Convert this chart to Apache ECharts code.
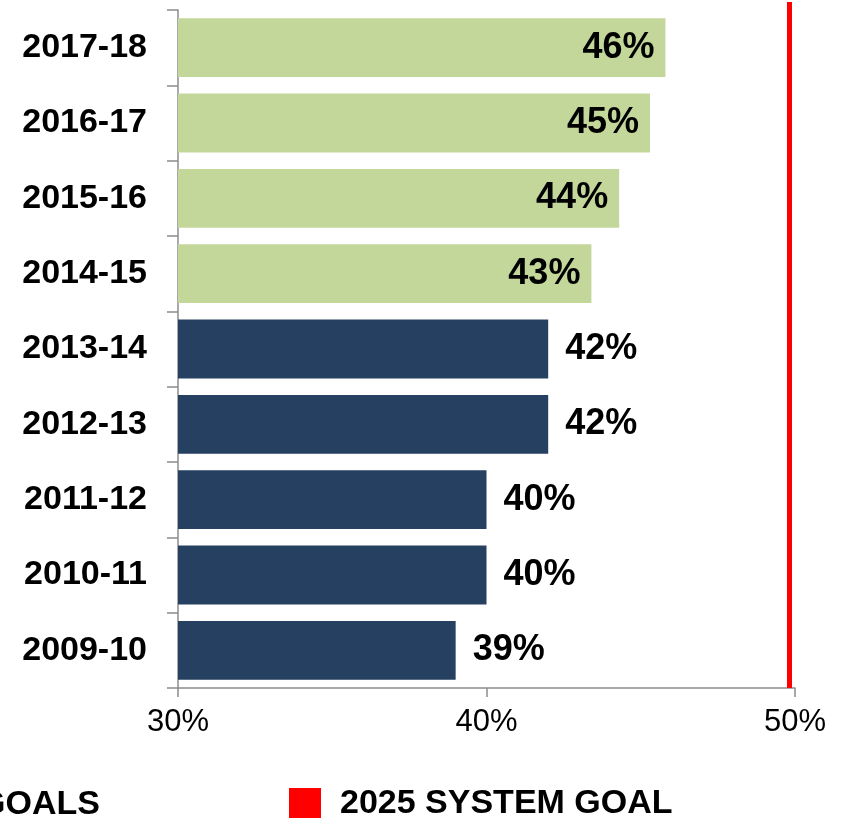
<!DOCTYPE html>
<html>
<head>
<meta charset="utf-8">
<script src="https://cdn.jsdelivr.net/npm/echarts@6/dist/echarts.min.js"></script>
<style>html,body{margin:0;padding:0;background:#fff;}#c{width:844px;height:818px;}</style>
</head>
<body>
<div id="c"></div>
<script>
const years = ['2009-10','2010-11','2011-12','2012-13','2013-14','2014-15','2015-16','2016-17','2017-18'];
const values = [39.0, 40.0, 40.0, 42.0, 42.0, 43.4, 44.3, 45.3, 45.8];
const labels = ['39%','40%','40%','42%','42%','43%','44%','45%','46%'];
const isGoalYear = [false,false,false,false,false,true,true,true,true];
const goalValue = 49.8;
const xTicks = [30, 40, 50];

const FONT = "'Liberation Sans', Arial, sans-serif";
const chart = echarts.init(document.getElementById('c'));

const barData = values.map((v, i) => ({
  value: v,
  itemStyle: { color: isGoalYear[i] ? '#C4D79B' : '#254061' },
  label: isGoalYear[i]
    ? { position: 'insideRight', distance: 11 }
    : { position: 'right', distance: 17 }
}));

chart.setOption({
  animation: false,
  backgroundColor: '#fff',
  grid: [
    { left: 178, right: 49, top: 10, bottom: 130, containLabel: false },
    { left: 178, right: 49, top: 2, bottom: 130, containLabel: false }
  ],
  xAxis: [{
    type: 'value', min: 30, max: 50, interval: 10, gridIndex: 0,
    axisLine: { show: true, lineStyle: { color: '#8c8c8c', width: 1.5 } },
    axisTick: { show: true, length: 9, lineStyle: { color: '#8c8c8c', width: 1.5 } },
    splitLine: { show: false },
    axisLabel: {
      margin: 19, fontFamily: FONT, fontSize: 31, color: '#000',
      formatter: v => xTicks.includes(v) ? v + '%' : ''
    }
  }, {
    type: 'value', min: 30, max: 50, gridIndex: 1, show: false
  }],
  yAxis: [{
    type: 'category', data: years, gridIndex: 0,
    axisLine: { show: true, lineStyle: { color: '#8c8c8c', width: 1.5 } },
    axisTick: { show: true, length: 11, lineStyle: { color: '#8c8c8c', width: 1.5 } },
    axisLabel: { margin: 31, fontFamily: FONT, fontSize: 34, fontWeight: 'bold', color: '#000' }
  }, {
    type: 'value', min: 0, max: 1, gridIndex: 1, show: false
  }],
  legend: {
    data: [{ name: '2025 SYSTEM GOAL', icon: 'rect' }],
    left: 289, top: 786, itemWidth: 32, itemHeight: 32, itemGap: 10, padding: 0,
    textStyle: { fontFamily: FONT, fontSize: 34, lineHeight: 32, fontWeight: 'bold', color: '#000', padding: [4, 0, 0, 14] }
  },
  graphic: [{
    type: 'text', right: 744, top: 788,
    style: { text: 'GOALS', fontFamily: FONT, fontSize: 34, fontWeight: 'bold', fill: '#000', textAlign: 'right' }
  }],
  series: [
    {
      type: 'bar', data: barData, barCategoryGap: '22%', xAxisIndex: 0, yAxisIndex: 0,
      label: {
        show: true, fontFamily: FONT, fontSize: 36, fontWeight: 'bold', color: '#000',
        formatter: p => labels[p.dataIndex]
      }
    },
    {
      name: '2025 SYSTEM GOAL', type: 'line', data: [], xAxisIndex: 1, yAxisIndex: 1,
      itemStyle: { color: '#FF0000' },
      markLine: {
        silent: true, symbol: ['none', 'none'],
        label: { show: false },
        lineStyle: { color: '#FF0000', width: 5, type: 'solid' },
        data: [{ xAxis: goalValue }]
      }
    }
  ]
});
</script>
</body>
</html>
